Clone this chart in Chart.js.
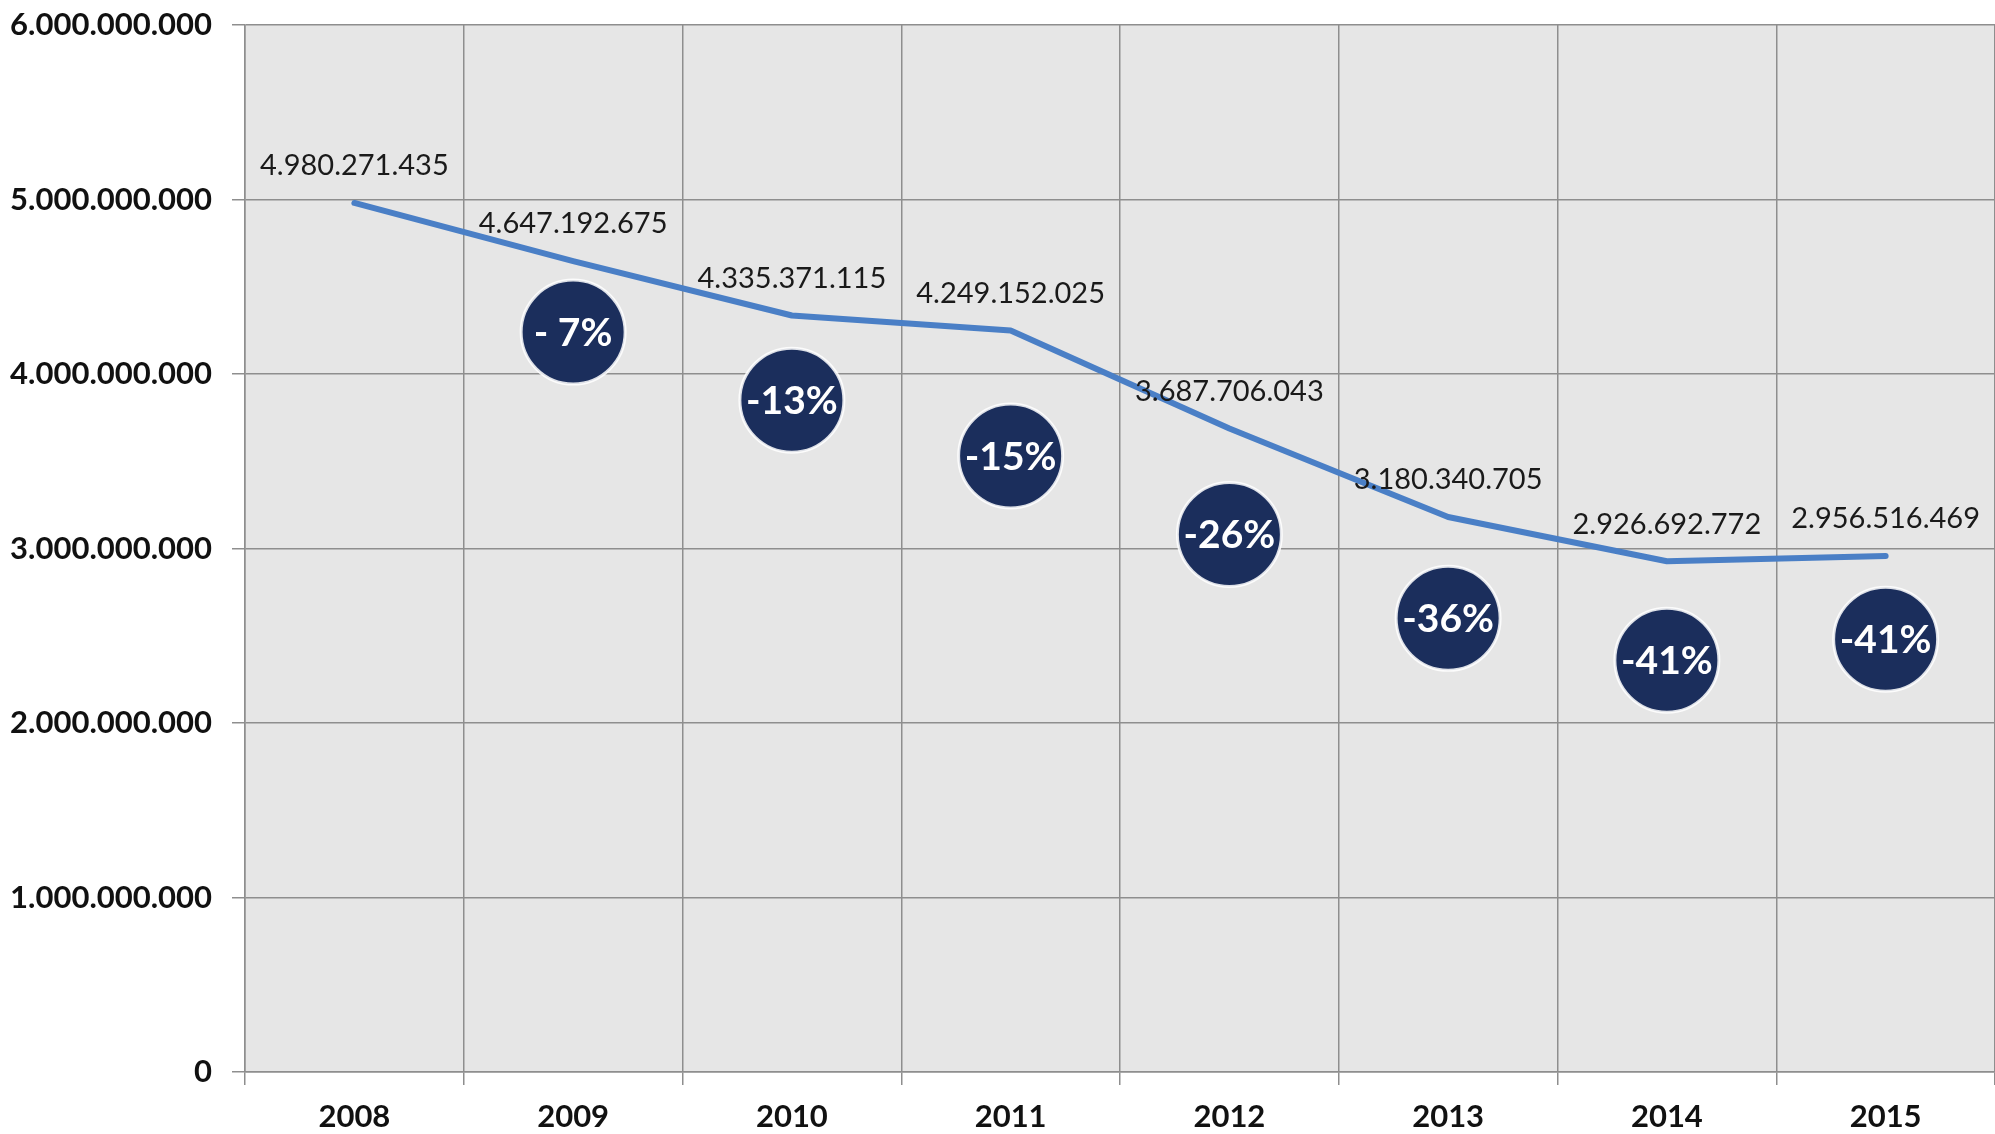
<!DOCTYPE html>
<html>
<head>
<meta charset="utf-8">
<script src="https://cdn.jsdelivr.net/npm/chart.js@4.4.1/dist/chart.umd.min.js"></script>
<style>
html,body{margin:0;padding:0;background:#fff;}
#wrap{width:1995px;height:1134px;position:relative;}
</style>
</head>
<body>
<div id="wrap"><canvas id="chart"></canvas></div>
<script>
// ---- data ----
const YEARS=['2008','2009','2010','2011','2012','2013','2014','2015'];
const VALUES=[4980271435,4647192675,4335371115,4249152025,3687706043,3180340705,2926692772,2956516469];
const CHANGE_LABELS=[null,'- 7%','-13%','-15%','-26%','-36%','-41%','-41%'];
// where each badge sits (in axis units)
const BADGE_Y=[null,4.24e9,3.85e9,3.53e9,3.08e9,2.60e9,2.36e9,2.48e9];
const Y_TICKS=[0,1e9,2e9,3e9,4e9,5e9,6e9];

const COLORS={line:'#4A7FC6',badge:'#1B2E5C',grid:'#8E8E8E',plot:'#E6E6E6',text:'#111111'};
const FONT='Lato, "Open Sans", sans-serif';
const fmt=n=>String(Math.round(n)).replace(/\B(?=(\d{3})+(?!\d))/g,'.');

const plotBg={id:'plotBg',beforeDraw(chart){
  const {ctx,chartArea:a}=chart;ctx.save();ctx.fillStyle=COLORS.plot;
  ctx.fillRect(a.left,a.top,a.right-a.left,a.bottom-a.top);ctx.restore();
}};

const textLayer={id:'textLayer',afterDatasetsDraw(chart){
  const ctx=chart.ctx;ctx.save();
  // value labels above line points
  const lineMeta=chart.getDatasetMeta(1);
  ctx.font='29px '+FONT;ctx.fillStyle='#1a1a1a';ctx.textAlign='center';ctx.textBaseline='middle';
  lineMeta.data.forEach((pt,i)=>ctx.fillText(fmt(VALUES[i]),pt.x,pt.y-37));
  // badge texts
  const badgeMeta=chart.getDatasetMeta(0);
  ctx.font='bold 39px '+FONT;ctx.fillStyle='#ffffff';
  badgeMeta.data.forEach((pt,i)=>{if(CHANGE_LABELS[i])ctx.fillText(CHANGE_LABELS[i],pt.x,pt.y+1);});
  ctx.restore();
}};

new Chart(document.getElementById('chart'),{
  type:'line',
  data:{labels:YEARS,datasets:[
    {label:'change',data:BADGE_Y,showLine:false,order:2,pointRadius:52,pointHoverRadius:52,
     pointBackgroundColor:COLORS.badge,pointBorderColor:'rgba(255,255,255,0.85)',pointBorderWidth:3},
    {label:'value',data:VALUES,order:1,borderColor:COLORS.line,borderWidth:6,tension:0,pointRadius:0,pointHoverRadius:0,
     borderCapStyle:'round',borderJoinStyle:'round',fill:false}
  ]},
  options:{responsive:true,maintainAspectRatio:false,animation:false,
    layout:{autoPadding:false,padding:{top:25,right:0,left:0,bottom:0}},
    plugins:{legend:{display:false},tooltip:{enabled:false}},
    scales:{
      x:{offset:true,
        grid:{offset:true,color:COLORS.grid,lineWidth:1.5,tickLength:13},
        border:{color:COLORS.grid,width:1.5},
        ticks:{color:COLORS.text,padding:13,font:{family:FONT,size:31,weight:'bold'}},
        afterFit:s=>{s.height=62;s.paddingLeft=0;s.paddingRight=0;}},
      y:{min:0,max:6e9,
        afterBuildTicks:s=>{s.ticks=Y_TICKS.map(v=>({value:v}));},
        grid:{color:COLORS.grid,lineWidth:1.5,tickLength:13},
        border:{color:COLORS.grid,width:1.5},
        ticks:{color:COLORS.text,padding:20,callback:v=>fmt(v),font:{family:FONT,size:31,weight:'bold'}},
        afterFit:s=>{s.width=245;s.paddingTop=0;s.paddingBottom=0;}}
    }
  },
  plugins:[plotBg,textLayer]
});
</script>
</body>
</html>
